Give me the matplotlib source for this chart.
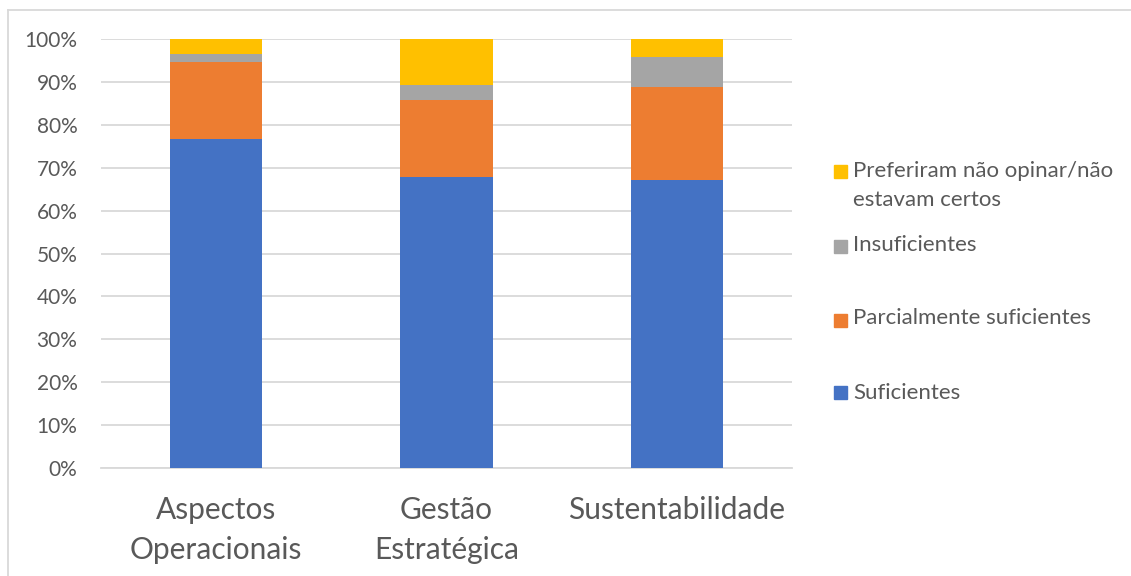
import matplotlib.pyplot as plt
from matplotlib.patches import Rectangle
from matplotlib.lines import Line2D
from matplotlib.ticker import PercentFormatter

plt.rcParams['font.family'] = ['Lato', 'DejaVu Sans']

categories = ["Aspectos\nOperacionais", "Gestão\nEstratégica", "Sustentabilidade"]
series_names = ["Suficientes", "Parcialmente suficientes", "Insuficientes",
                "Preferiram não opinar/não\nestavam certos"]
suficientes = [76.7, 67.8, 67.1]
parcialmente = [18.0, 17.9, 21.6]
insuficientes = [1.7, 3.6, 7.0]
preferiram = [3.6, 10.7, 4.3]
yticks = [0, 10, 20, 30, 40, 50, 60, 70, 80, 90, 100]

colors = ["#4472C4", "#ED7D31", "#A5A5A5", "#FFC000"]
text_color = "#595959"
grid_color = "#D9D9D9"

W, H = 1131, 576
fig = plt.figure(figsize=(W / 100, H / 100), dpi=100)
ax = fig.add_axes([101 / W, 1 - 468 / H, (792 - 101) / W, (468 - 39) / H])

values = [suficientes, parcialmente, insuficientes, preferiram]
x = range(len(categories))
bottom = [0.0] * len(categories)
for vals, c in zip(values, colors):
    ax.bar(x, vals, width=0.4, bottom=bottom, color=c, zorder=3)
    bottom = [b + v for b, v in zip(bottom, vals)]

ax.set_xlim(-0.5, len(categories) - 0.5)
ax.set_ylim(0, 100)
ax.set_yticks(yticks)
ax.yaxis.set_major_formatter(PercentFormatter(decimals=0))
ax.grid(axis='y', color=grid_color, linewidth=1.3, zorder=0)
for s in ["top", "right", "left"]:
    ax.spines[s].set_visible(False)
ax.spines["bottom"].set_color(grid_color)
ax.spines["bottom"].set_linewidth(1.3)
ax.tick_params(axis='y', length=0, pad=17, labelsize=15, labelcolor=text_color)
ax.tick_params(axis='x', length=0, pad=20.5, labelsize=21.5, labelcolor=text_color)
ax.set_xticks(list(x))
ax.set_xticklabels(categories, linespacing=1.5)

# legend on the right, top entry is the last series
legend_marker_y = [172, 246, 320, 392]
legend_text_y = [171, 245, 318, 393]
order = [3, 2, 1, 0]
for my, ty, i in zip(legend_marker_y, legend_text_y, order):
    fig.patches.append(Rectangle((834 / W, 1 - (my + 6.5) / H), 13 / W, 13 / H,
                                 transform=fig.transFigure, color=colors[i]))
    for k, line in enumerate(series_names[i].split("\n")):
        fig.text(853 / W, 1 - (ty + 29 * k) / H, line, fontsize=16,
                 color=text_color, va='center', ha='left')

# outer frame
fig.add_artist(Line2D([7.5 / W, 7.5 / W], [0, 1 - 9.5 / H], transform=fig.transFigure,
                      color=grid_color, linewidth=1.3))
fig.add_artist(Line2D([7.5 / W, 1], [1 - 9.5 / H, 1 - 9.5 / H], transform=fig.transFigure,
                      color=grid_color, linewidth=1.3))

fig.savefig("out.png", dpi=100)
